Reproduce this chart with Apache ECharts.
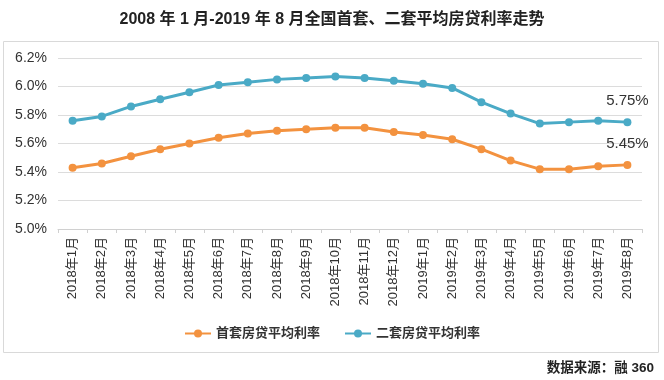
<!DOCTYPE html>
<html><head><meta charset="utf-8">
<script src="https://cdn.jsdelivr.net/npm/echarts@6/dist/echarts.min.js"></script>
<style>html,body{margin:0;padding:0;background:#fff}#c{width:664px;height:380px}</style>
</head><body><div id="c"></div>
<script>
const categories = ['2018年1月','2018年2月','2018年3月','2018年4月','2018年5月','2018年6月','2018年7月','2018年8月','2018年9月','2018年10月','2018年11月','2018年12月','2019年1月','2019年2月','2019年3月','2019年4月','2019年5月','2019年6月','2019年7月','2019年8月'];
const firstHome = [5.43,5.46,5.51,5.56,5.60,5.64,5.67,5.69,5.70,5.71,5.71,5.68,5.66,5.63,5.56,5.48,5.42,5.42,5.44,5.45];
const secondHome = [5.76,5.79,5.86,5.91,5.96,6.01,6.03,6.05,6.06,6.07,6.06,6.04,6.02,5.99,5.89,5.81,5.74,5.75,5.76,5.75];
const seriesNames = ['首套房贷平均利率','二套房贷平均利率'];
const titleText = '2008 年 1 月-2019 年 8 月全国首套、二套平均房贷利率走势';
const sourceText = '数据来源：融 360';

const font = '"Liberation Sans", Arial, "Noto Sans CJK SC", sans-serif';
const lastLabel = () => ({
  show: true, position: 'top', distance: 10, fontSize: 15, color: '#333', fontFamily: font,
  formatter: p => p.dataIndex === categories.length - 1 ? p.value.toFixed(2) + '%' : ''
});
const chart = echarts.init(document.getElementById('c'));
chart.setOption({
  animation: false,
  textStyle: { fontFamily: font },
  title: { text: titleText, left: 'center', top: 7,
    textStyle: { fontSize: 16, fontWeight: 'bold', color: '#222', fontFamily: font } },
  graphic: [
    { type: 'rect', shape: { x: 3.5, y: 41.5, width: 655, height: 311 }, style: { fill: 'none', stroke: '#d9d9d9', lineWidth: 1 }, silent: true },
    { type: 'text', right: 10, top: 362, style: { text: sourceText, fontSize: 13.5, fontWeight: 'bold', fill: '#222', fontFamily: font } }
  ],
  legend: { data: seriesNames, top: 322, left: 'center', itemWidth: 26, itemHeight: 10, itemGap: 24,
    textStyle: { fontSize: 13, fontWeight: 'bold', color: '#333' } },
  grid: { left: 58, right: 22, top: 58, bottom: 151 },
  xAxis: { type: 'category', data: categories, boundaryGap: true,
    axisLine: { lineStyle: { color: '#d0d0d0' } },
    axisTick: { show: true, length: 4, lineStyle: { color: '#d0d0d0' } },
    axisLabel: { rotate: 90, fontSize: 13, color: '#333', margin: 8 } },
  yAxis: { type: 'value', min: 5.0, max: 6.2, interval: 0.2,
    axisLine: { show: false }, axisTick: { show: false },
    splitLine: { lineStyle: { color: '#dcdcdc' } },
    axisLabel: { fontSize: 14, color: '#333', margin: 11, formatter: v => v.toFixed(1) + '%' } },
  series: [
    { name: seriesNames[0], type: 'line', data: firstHome, symbol: 'circle', symbolSize: 8,
      itemStyle: { color: '#F3923F' }, lineStyle: { width: 3, color: '#F3923F' }, label: lastLabel() },
    { name: seriesNames[1], type: 'line', data: secondHome, symbol: 'circle', symbolSize: 8,
      itemStyle: { color: '#4AAAC6' }, lineStyle: { width: 3, color: '#4AAAC6' }, label: lastLabel() }
  ]
});
</script></body></html>
